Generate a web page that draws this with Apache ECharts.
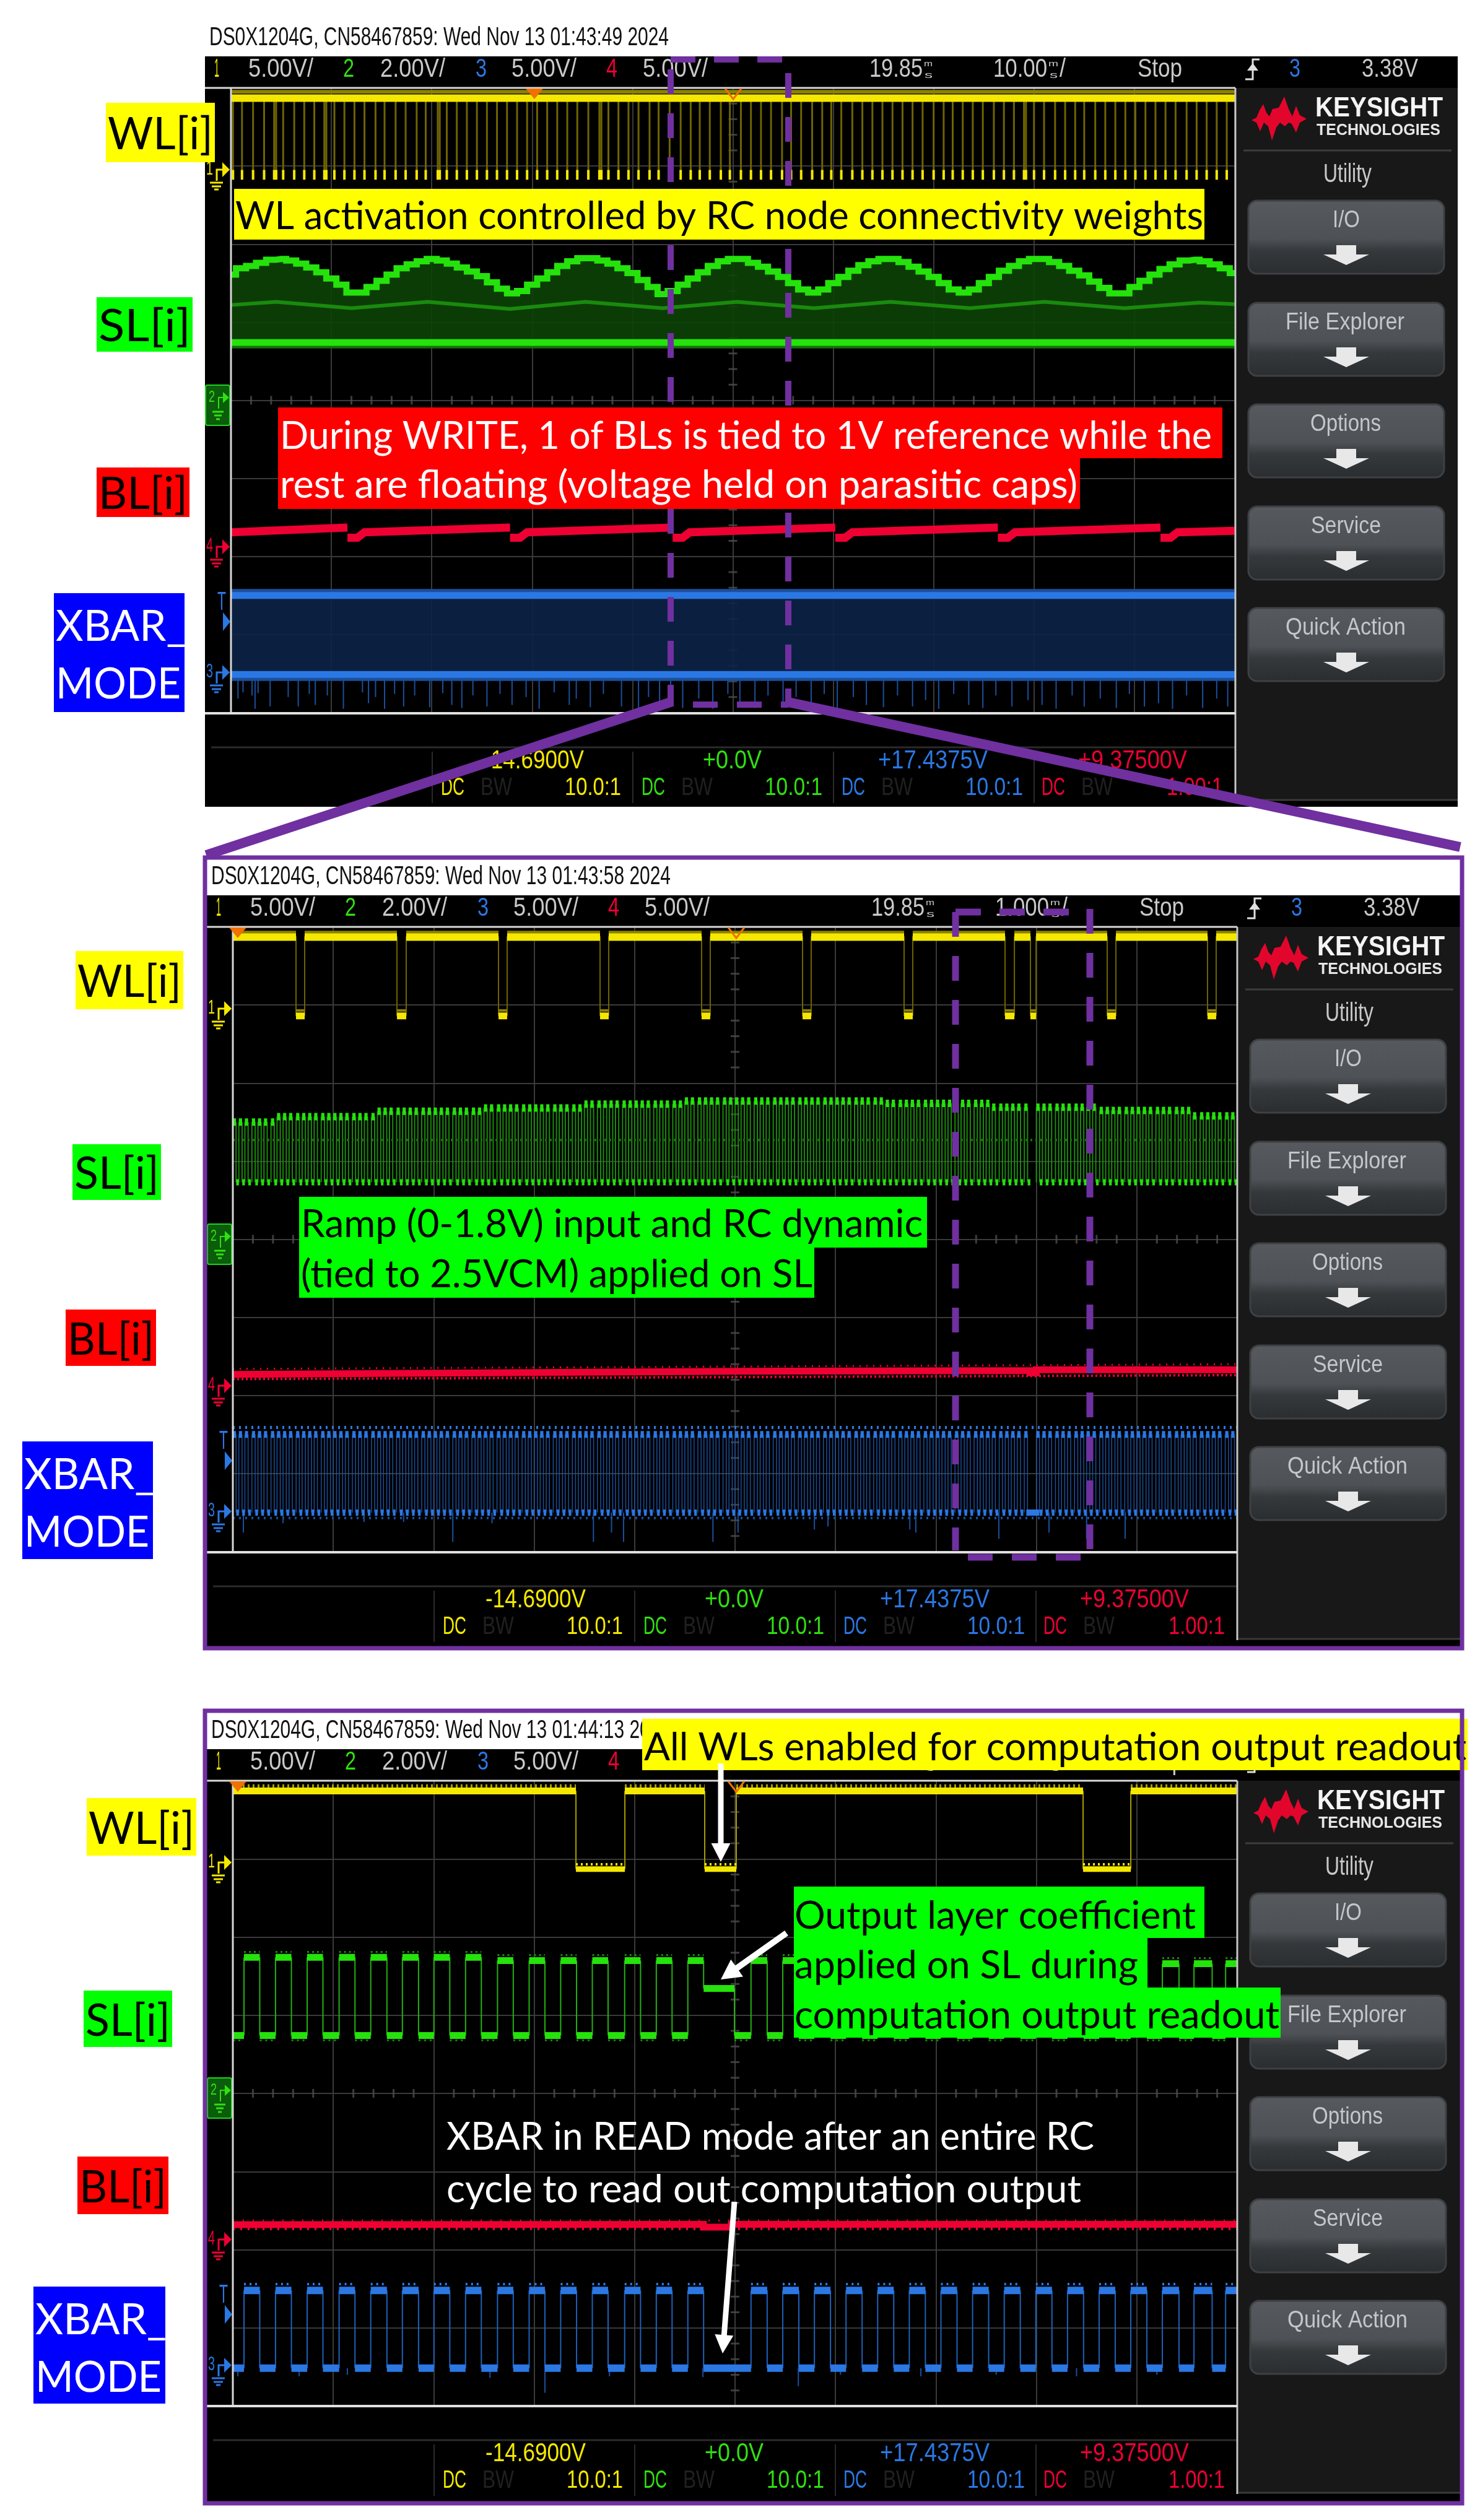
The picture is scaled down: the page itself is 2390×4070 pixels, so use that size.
<!DOCTYPE html>
<html>
<head>
<meta charset="utf-8">
<title>scope captures</title>
<style>
  html, body { margin: 0; padding: 0; background: #fff; }
  #chart { width: 2390px; height: 4070px; }
</style>
<script src="https://cdn.jsdelivr.net/npm/echarts@6/dist/echarts.min.js"></script>
</head>
<body>
<div id="chart"></div>
<script>
// all trace values are in scope divisions: x 0..10 from the left, y 0..8 from the top

// ---- capture 1 (10 ms/div)
const wlPulse1 = [0.02,0.11,0.22,0.33,0.43,0.45,0.52,0.63,0.73,0.83,0.93,0.95,1.03,1.13,1.23,1.33,1.44,1.53,1.64,1.74,1.85,1.94,2.06,2.08,2.15,2.25,2.35,2.45,2.55,2.65,2.75,2.85,2.95,3.05,3.15,3.25,3.35,3.45,3.56,3.67,3.69,3.76,3.86,3.96,4.06,4.17,4.26,4.37,4.48,4.58,4.67,4.77,4.88,4.97,5.08,5.18,5.28,5.38,5.49,5.58,5.68,5.79,5.89,5.98,6.08,6.19,6.29,6.39,6.49,6.59,6.69,6.79,6.89,7.00,7.10,7.19,7.29,7.39,7.49,7.60,7.70,7.80,7.90,7.92,8.00,8.10,8.21,8.31,8.41,8.50,8.61,8.71,8.81,8.91,9.01,9.11,9.21,9.31,9.41,9.52,9.62,9.72,9.82,9.92];
const slTop1 = [2.39,2.31,2.28,2.24,2.20,2.19,2.21,2.25,2.30,2.36,2.44,2.52,2.62,2.62,2.55,2.47,2.39,2.31,2.26,2.22,2.19,2.21,2.25,2.30,2.35,2.41,2.49,2.57,2.63,2.60,2.52,2.44,2.36,2.28,2.22,2.18,2.18,2.21,2.25,2.31,2.37,2.46,2.55,2.64,2.60,2.52,2.44,2.36,2.28,2.22,2.19,2.19,2.24,2.29,2.35,2.42,2.50,2.58,2.62,2.58,2.50,2.42,2.34,2.27,2.22,2.19,2.19,2.23,2.29,2.35,2.42,2.50,2.58,2.62,2.58,2.50,2.42,2.34,2.28,2.22,2.19,2.19,2.23,2.28,2.34,2.40,2.48,2.56,2.63,2.63,2.55,2.47,2.39,2.32,2.26,2.21,2.20,2.22,2.26,2.31,2.37];
const slMid1 = [[0,2.78],[0.45,2.74],[1.2,2.82],[1.96,2.74],[2.78,2.83],[3.53,2.74],[4.3,2.82],[5.04,2.74],[5.81,2.82],[6.57,2.74],[7.36,2.82],[8.1,2.74],[8.9,2.82],[9.65,2.75],[10,2.77]];
const slLow1 = 3.26;
const blSaw1 = [[0,5.69],[1.16,5.63],null,[1.16,5.76],[1.26,5.76],[1.33,5.69],[2.78,5.63],null,[2.78,5.76],[2.88,5.76],[2.95,5.69],[4.40,5.63],null,[4.40,5.76],[4.50,5.76],[4.57,5.69],[6.02,5.63],null,[6.02,5.76],[6.12,5.76],[6.19,5.69],[7.64,5.63],null,[7.64,5.76],[7.74,5.76],[7.81,5.69],[9.26,5.63],null,[9.26,5.76],[9.36,5.76],[9.43,5.69],[10,5.67]];
const xbarHi1 = 6.50;
const xbarLo1 = 7.51;
const xbarSpikeX1 = [0.07,0.12,0.21,0.24,0.27,0.39,0.57,0.67,0.78,0.84,0.96,1.12,1.31,1.37,1.44,1.53,1.63,1.72,1.83,1.98,2.11,2.2,2.3,2.41,2.55,2.68,2.8,2.94,3.07,3.22,3.37,3.44,3.58,3.71,3.89,4.06,4.16,4.27,4.38,4.5,4.66,4.8,4.95,5.07,5.22,5.35,5.5,5.63,5.78,5.91,6.04,6.2,6.33,6.5,6.64,6.79,6.92,7.05,7.2,7.35,7.49,7.62,7.78,7.94,8.08,8.22,8.38,8.5,8.66,8.82,8.95,9.1,9.24,9.38,9.52,9.68,9.82,9.93];
const xbarSpikeY1 = [7.82,7.74,7.78,7.95,7.75,7.92,7.8,7.92,7.76,7.9,7.78,7.95,7.74,7.88,7.8,7.95,7.76,7.92,7.78,7.93,7.75,7.9,7.94,7.78,7.92,7.76,7.9,7.8,7.95,7.74,7.9,7.82,7.93,7.76,7.92,7.95,7.8,7.92,7.76,7.94,7.82,7.95,7.76,7.9,7.94,7.78,7.93,7.8,7.92,7.76,7.95,7.8,7.9,7.93,7.78,7.92,7.84,7.95,7.76,7.9,7.94,7.78,7.92,7.84,7.9,7.95,7.78,7.92,7.82,7.94,7.76,7.92,7.88,7.95,7.78,7.94,7.82,7.92];

// ---- capture 2 (1 ms/div)
const wlGap2 = [[0.629,0.715],[1.634,1.726],[2.645,2.731],[3.656,3.742],[4.667,4.753],[5.672,5.758],[6.683,6.769],[7.688,7.781],[7.941,7.997],[8.705,8.792],[9.704,9.790]];
const pulseX2 = [
  0.00,0.06,0.12,0.19,0.25,0.31,0.38,0.44,0.50,0.56,0.63,0.69,0.75,0.81,0.88,0.94,
  1.00,1.06,1.12,1.19,1.25,1.31,1.38,1.44,1.50,1.56,1.63,1.69,1.75,1.81,1.88,1.94,
  2.00,2.06,2.12,2.19,2.25,2.31,2.38,2.44,2.50,2.56,2.63,2.69,2.75,2.81,2.88,2.94,
  3.00,3.06,3.12,3.19,3.25,3.31,3.38,3.44,3.50,3.56,3.63,3.69,3.75,3.81,3.88,3.94,
  4.00,4.06,4.12,4.19,4.25,4.31,4.38,4.44,4.50,4.56,4.63,4.69,4.75,4.81,4.88,4.94,
  5.00,5.06,5.12,5.19,5.25,5.31,5.38,5.44,5.50,5.56,5.63,5.69,5.75,5.81,5.88,5.94,
  6.00,6.06,6.12,6.19,6.25,6.31,6.38,6.44,6.50,6.56,6.63,6.69,6.75,6.81,6.88,6.94,
  7.00,7.06,7.12,7.19,7.25,7.31,7.38,7.44,7.50,7.56,7.63,7.69,7.75,7.81,7.88,
  8.00,8.06,8.12,8.19,8.25,8.31,8.38,8.44,8.50,8.56,8.63,8.69,8.75,8.81,8.88,8.94,
  9.00,9.06,9.12,9.19,9.25,9.31,9.38,9.44,9.50,9.56,9.63,9.69,9.75,9.81,9.88,9.94
];
const slStepEnd2 = [0.44,1.44,2.47,3.47,4.47,6.49,7.52,8.57,9.53,10];
const slStepTop2 = [2.50,2.43,2.36,2.32,2.27,2.23,2.26,2.31,2.35,2.42];
const slLow2 = 3.27;
const blLine2 = [[0,5.73],[2.5,5.71],[5,5.69],[7.94,5.68],[7.94,5.71],[8.0,5.71],[8.0,5.67],[10,5.67]];
const xbarHi2 = 6.50;
const xbarLo2 = 7.50;
const xbarSpikeX2 = [0.105,0.50,1.307,1.70,2.19,2.58,3.59,3.77,3.89,4.78,5.03,5.79,5.925,6.74,6.80,7.626,8.126,8.50,8.884];
const xbarSpikeY2 = [7.756,7.637,7.62,7.62,7.875,7.637,7.875,7.756,7.875,7.875,7.756,7.716,7.677,7.716,7.756,7.835,7.756,7.835,7.835];

// ---- capture 3 (readout)
const wlGap3 = [[3.416,3.903],[4.698,5.012],[8.465,8.94]];
const rise3 = [0.111,0.425,0.740,1.058,1.373,1.688,2.002,2.317,2.635,2.950,3.264,3.579,3.901,4.216,4.530,5.159,5.475,5.790,6.105,6.420,6.735,7.050,7.365,7.680,7.995,8.310,8.625,8.940,9.254,9.569,9.884];
const fall3 = [0.268,0.583,0.897,1.216,1.534,1.849,2.160,2.474,2.792,3.107,3.422,3.736,4.059,4.373,4.687,5.320,5.635,5.950,6.265,6.580,6.895,7.210,7.525,7.840,8.155,8.470,8.785,9.100,9.420,9.750,10.0];
const slTop3 = [2.26,2.26,2.26,2.26,2.26,2.26,2.26,2.26,2.30,2.30,2.30,2.30,2.30,2.30,2.30,2.30,2.30,2.32,2.32,2.32,2.32,2.32,2.32,2.32,2.32,2.34,2.34,2.34,2.34,2.34,2.34];
const slLow3 = 3.26;
const slHold3 = [4.687,4.994,2.657];
const blLine3 = [[0,5.68],[4.685,5.675],[4.685,5.71],[4.963,5.71],[4.963,5.675],[10,5.675]];
const xbarHi3 = 6.52;
const xbarLo3 = 7.515;
const xbarSpikeX3 = [0.05,0.66,1.14,2.56,3.107,3.75,4.68,5.63,6.05,6.85,7.6,8.4,9.2];
const xbarSpikeY3 = [7.62,7.62,7.6,7.64,7.83,7.62,7.63,7.745,7.6,7.62,7.6,7.62,7.6];

// center graticule ticks
const tickAlongY = [0.2,0.4,0.6,0.8,1.2,1.4,1.6,1.8,2.2,2.4,2.6,2.8,3.2,3.4,3.6,3.8,4.2,4.4,4.6,4.8,5.2,5.4,5.6,5.8,6.2,6.4,6.6,6.8,7.2,7.4,7.6,7.8];
const tickAlongX = [0.2,0.4,0.6,0.8,1.2,1.4,1.6,1.8,2.2,2.4,2.6,2.8,3.2,3.4,3.6,3.8,4.2,4.4,4.6,4.8,5.2,5.4,5.6,5.8,6.2,6.4,6.6,6.8,7.2,7.4,7.6,7.8,8.2,8.4,8.6,8.8,9.2,9.4,9.6,9.8];

const YEL = '#f4e800', YEL_DIM = '#6e6400', YEL_MID = '#a89c00';
const GRN = '#25e20c', GRN_DIM = '#1a8a0e', GRN_DARK = '#0d4206';
const BLU = '#2b78e4', BLU_DIM = '#1b4f9c', BLU_DARK = '#0c2448';
const RED = '#ee0033', RED_DIM = '#a80026';
const PURPLE = '#7030a0';

const BREAK = [null, null];

function tr(gi, data, color, width, extra) {
  return Object.assign({
    type: 'line', xAxisIndex: gi, yAxisIndex: gi, data: data,
    symbol: 'none', silent: true, animation: false,
    lineStyle: { color: color, width: width, cap: 'butt', join: 'miter' }
  }, extra || {});
}
function vsegs(xs, y1, y2) {
  let out = [];
  xs.forEach(x => out.push([x, y1], [x, y2], BREAK));
  return out;
}
function hsegs(pairs, y) {
  let out = [];
  pairs.forEach(p => out.push([p[0], y], [p[1], y], BREAK));
  return out;
}
function spikes(xs, y1, ys) {
  let out = [];
  xs.forEach((x, i) => out.push([x, y1], [x, ys[i]], BREAK));
  return out;
}
// the stretches outside a list of gaps
function outside(gaps) {
  let out = [], last = 0;
  gaps.forEach(g => { out.push([last, g[0]]); last = g[1]; });
  out.push([last, 10]);
  return out;
}
function ticksSeries(gi) {
  return [
    { type: 'scatter', xAxisIndex: gi, yAxisIndex: gi, silent: true, animation: false, symbol: 'rect', symbolSize: [14, 3],
      itemStyle: { color: '#4c4c4c' }, data: tickAlongY.map(y => [5, y]) },
    { type: 'scatter', xAxisIndex: gi, yAxisIndex: gi, silent: true, animation: false, symbol: 'rect', symbolSize: [3, 14],
      itemStyle: { color: '#4c4c4c' }, data: tickAlongX.map(x => [x, 4]) }
  ];
}

let series = [];

// ---------- capture 1 traces
series.push(...ticksSeries(0));
series.push(tr(0, vsegs(wlPulse1, 0.15, 1.06), YEL_DIM, 3));
series.push(tr(0, vsegs(wlPulse1, 1.05, 1.175), YEL, 4));
series.push(tr(0, [[0, 0.05], [10, 0.05]], '#8d8100', 6));
series.push(tr(0, [[0, 0.13], [10, 0.13]], YEL, 12));

const slTopData1 = slTop1.map((v, i) => [i / 10, v]);
series.push(tr(0, slTopData1, GRN_DARK, 0, { step: 'middle', areaStyle: { color: GRN_DARK, origin: slLow1, opacity: 0.9 }, lineStyle: { width: 0, opacity: 0 } }));
series.push(tr(0, slMid1, GRN_DIM, 6));
series.push(tr(0, slTopData1, GRN, 10, { step: 'middle' }));
series.push(tr(0, [[0, slLow1 + 0.06], [10, slLow1 + 0.06]], '#14700a', 4));
series.push(tr(0, [[0, slLow1], [10, slLow1]], GRN, 11));

series.push(tr(0, blSaw1.map(p => p || BREAK), RED, 13));

series.push(tr(0, [[0, xbarHi1], [10, xbarHi1]], BLU_DARK, 0, { areaStyle: { color: BLU_DARK, origin: xbarLo1, opacity: 0.9 }, lineStyle: { width: 0, opacity: 0 } }));
series.push(tr(0, spikes(xbarSpikeX1, xbarLo1, xbarSpikeY1), BLU_DIM, 2));
series.push(tr(0, [[0, xbarHi1 - 0.06], [10, xbarHi1 - 0.06]], BLU_DIM, 6));
series.push(tr(0, [[0, xbarLo1 + 0.06], [10, xbarLo1 + 0.06]], BLU_DIM, 6));
series.push(tr(0, [[0, xbarHi1], [10, xbarHi1]], BLU, 11));
series.push(tr(0, [[0, xbarLo1], [10, xbarLo1]], BLU, 11));

// ---------- capture 2 traces
series.push(...ticksSeries(1));
const wlBand2 = outside(wlGap2);
series.push(tr(1, vsegs(wlGap2.flat(), 0.12, 1.14), YEL_DIM, 2));
series.push(tr(1, hsegs(wlBand2, 0.07), '#8d8100', 5));
series.push(tr(1, hsegs(wlBand2, 0.13), YEL, 12));
series.push(tr(1, hsegs(wlGap2, 1.14), YEL, 11));
series.push(tr(1, hsegs(wlGap2, 1.07), '#8d8100', 4));

function slLevel2(x) {
  let i = slStepEnd2.findIndex(e => x < e);
  return slStepTop2[i < 0 ? slStepTop2.length - 1 : i];
}
const PW2 = 0.032;
let edge2 = [], top2 = [], low2 = [], edgeB2 = [], topB2 = [], lowB2 = [];
pulseX2.forEach(x => {
  let y = slLevel2(x);
  edge2.push([x, y], [x, slLow2], BREAK, [x + PW2, y], [x + PW2, slLow2], BREAK);
  top2.push([x, y], [x + PW2, y], BREAK);
  low2.push([x + PW2 + 0.002, slLow2], [x + 0.06, slLow2], BREAK);
  edgeB2.push([x, xbarHi2], [x, xbarLo2], BREAK, [x + PW2, xbarHi2], [x + PW2, xbarLo2], BREAK);
  topB2.push([x, xbarHi2], [x + PW2, xbarHi2], BREAK);
  lowB2.push([x + PW2 + 0.002, xbarLo2], [x + 0.06, xbarLo2], BREAK);
});
series.push(tr(1, edge2, '#1c8a0e', 2));
series.push(tr(1, [[0, 2.73], [10, 2.73]], '#1d6f10', 4, { lineStyle: { color: '#1d6f10', width: 4, type: [3, 5], cap: 'butt' } }));
series.push(tr(1, top2, GRN, 12));
series.push(tr(1, low2, GRN, 10));

series.push(tr(1, [[0, 5.79], [10, 5.74]], RED_DIM, 4, { lineStyle: { color: RED, width: 4, type: [3, 4], cap: 'butt' } }));
series.push(tr(1, [[0, 5.66], [10, 5.60]], RED_DIM, 3, { lineStyle: { color: RED, width: 3, type: [2, 9], cap: 'butt' } }));
series.push(tr(1, blLine2, RED, 11));

series.push(tr(1, edgeB2, '#1c4f9a', 1.5));
series.push(tr(1, spikes(xbarSpikeX2, xbarLo2, xbarSpikeY2), BLU_DIM, 2));
series.push(tr(1, [[0, xbarHi2 - 0.09], [10, xbarHi2 - 0.09]], BLU_DIM, 5, { lineStyle: { color: BLU, width: 5, type: [3, 7], cap: 'butt' } }));
series.push(tr(1, [[0, xbarLo2 + 0.07], [10, xbarLo2 + 0.07]], BLU_DIM, 4, { lineStyle: { color: BLU_DIM, width: 4, type: [3, 7], cap: 'butt' } }));
series.push(tr(1, topB2, BLU, 11));
series.push(tr(1, lowB2, BLU, 10));
series.push(tr(1, [[7.90, xbarLo2], [8.03, xbarLo2]], BLU, 10));

// ---------- capture 3 traces
series.push(...ticksSeries(2));
const wlBand3 = outside(wlGap3);
series.push(tr(2, vsegs(wlGap3.flat(), 0.13, 1.13), YEL_MID, 2));
series.push(tr(2, hsegs(wlBand3, 0.07), YEL, 6, { lineStyle: { color: YEL_MID, width: 6, type: [3, 5], cap: 'butt' } }));
series.push(tr(2, hsegs(wlBand3, 0.13), YEL, 11));
series.push(tr(2, hsegs(wlGap3, 1.07), YEL, 4, { lineStyle: { color: YEL, width: 4, type: [3, 5], cap: 'butt' } }));
series.push(tr(2, hsegs(wlGap3, 1.13), YEL, 9));

// low stretches between a fall and the next rise
function lows(falls, rises) {
  let out = [[0, rises[0]]];
  falls.forEach((f, i) => { if (i + 1 < rises.length) out.push([f, rises[i + 1]]); });
  return out;
}
const rf3 = rise3.map((r, i) => [r, fall3[i]]);
// SL sits at the coefficient level during the readout, so its low stretch starts later
const slLows3 = lows(fall3.map(f => f === slHold3[0] ? slHold3[1] : f), rise3);

let edgeG3 = [];
rf3.forEach((p, i) => {
  edgeG3.push([p[0], slLow3], [p[0], slTop3[i]], BREAK);
  if (p[1] !== slHold3[0]) edgeG3.push([p[1], slTop3[i]], [p[1], slLow3], BREAK);
});
edgeG3.push([slHold3[0], slTop3[14]], [slHold3[0], slHold3[2]], BREAK, [slHold3[1], slHold3[2]], [slHold3[1], slLow3], BREAK);
series.push(tr(2, edgeG3, '#24b012', 2));
let topsG3 = [], fringeG3 = [];
rf3.forEach((p, i) => {
  topsG3.push([p[0], slTop3[i]], [p[1], slTop3[i]], BREAK);
  fringeG3.push([p[0], slTop3[i] - 0.07], [p[1], slTop3[i] - 0.07], BREAK);
});
series.push(tr(2, fringeG3, GRN, 3, { lineStyle: { color: GRN_DIM, width: 3, type: [3, 5], cap: 'butt' } }));
series.push(tr(2, topsG3, GRN, 11));
series.push(tr(2, hsegs(slLows3, slLow3), GRN, 11));
series.push(tr(2, hsegs(slLows3, slLow3 + 0.06), GRN, 3, { lineStyle: { color: GRN_DIM, width: 3, type: [3, 6], cap: 'butt' } }));
series.push(tr(2, hsegs([[slHold3[0], slHold3[1]]], slHold3[2]), GRN, 11));

series.push(tr(2, [[0, 5.735], [10, 5.735]], RED, 4, { lineStyle: { color: RED, width: 4, type: [3, 9], cap: 'butt' } }));
series.push(tr(2, [[0, 5.625], [10, 5.625]], RED, 3, { lineStyle: { color: RED, width: 3, type: [2, 14], cap: 'butt' } }));
series.push(tr(2, blLine3, RED, 11));

let edgeB3 = [], topsB3 = [], fringeB3 = [];
rf3.forEach(p => {
  edgeB3.push([p[0], xbarLo3], [p[0], xbarHi3], BREAK, [p[1], xbarHi3], [p[1], xbarLo3], BREAK);
  topsB3.push([p[0], xbarHi3], [p[1], xbarHi3], BREAK);
  fringeB3.push([p[0], xbarHi3 - 0.08], [p[1], xbarHi3 - 0.08], BREAK);
});
series.push(tr(2, edgeB3, '#1f60b8', 2));
series.push(tr(2, spikes(xbarSpikeX3, xbarLo3, xbarSpikeY3), BLU_DIM, 2));
series.push(tr(2, fringeB3, BLU, 4, { lineStyle: { color: BLU, width: 4, type: [3, 6], cap: 'butt' } }));
series.push(tr(2, topsB3, BLU, 12));
series.push(tr(2, hsegs(lows(fall3, rise3), xbarLo3), BLU, 12));

// ---------- everything around the traces
const SCOPE_FONT = '"Liberation Sans", sans-serif';
const NOTE_FONT = 'Lato, "Noto Sans", sans-serif';
const mc = document.createElement('canvas').getContext('2d');
let gfx = [];

function fit(str, x1, x2, cy, cap, color, z, family, weight, ratio) {
  family = family || SCOPE_FONT;
  weight = weight || 'normal';
  let size = cap / (ratio || 0.72);
  mc.font = weight + ' ' + size + 'px ' + family;
  let w = mc.measureText(str).width;
  gfx.push({
    type: 'text', x: x1, y: cy, scaleX: (x2 - x1) / w, z: z === undefined ? 5 : z, silent: true,
    style: { text: str, fill: color, fontSize: size, fontFamily: family, fontWeight: weight, align: 'left', verticalAlign: 'middle' }
  });
}
function note(str, x1, x2, cy, color) {
  fit(str, x1, x2, cy + 3, 45, color, 21, NOTE_FONT);
}
function box(x, y, w, h, fill, z, r, stroke, lw) {
  gfx.push({
    type: 'rect', z: z, silent: true, shape: { x: x, y: y, width: w, height: h, r: r || 0 },
    style: { fill: fill, stroke: stroke || null, lineWidth: lw || 0 }
  });
}
function ln(x1, y1, x2, y2, color, lw, z, dash) {
  gfx.push({
    type: 'line', z: z === undefined ? 5 : z, silent: true, shape: { x1: x1, y1: y1, x2: x2, y2: y2 },
    style: { stroke: color, lineWidth: lw, lineDash: dash || null, lineCap: 'butt' }
  });
}
function poly(points, fill, z) {
  gfx.push({ type: 'polygon', z: z === undefined ? 5 : z, silent: true, shape: { points: points }, style: { fill: fill } });
}
function pline(points, color, lw, z) {
  gfx.push({ type: 'polyline', z: z === undefined ? 5 : z, silent: true, shape: { points: points }, style: { stroke: color, lineWidth: lw, fill: null } });
}

function channelMark(px, y, color, num) {
  fit(num, px - 40, px - 29, y, 22, color);
  pline([[px - 23, y + 18], [px - 23, y], [px - 13, y]], color, 3);
  poly([[px - 14, y - 12], [px - 2, y], [px - 14, y + 12]], color);
  ln(px - 34, y + 21, px - 13, y + 21, color, 3);
  ln(px - 31, y + 27, px - 16, y + 27, color, 3);
  ln(px - 27, y + 32, px - 20, y + 32, color, 3);
}

function keysight(px, py) {
  const X = px - 373, Y = py - 142;
  const pts = [[0,38],[8,34],[13,22],[19,12],[24,26],[29,32],[34,20],[44,18],[53,0],[60,20],[66,32],[72,15],[78,30],[89,36],[78,42],[72,58],[65,44],[60,42],[54,48],[46,42],[40,50],[33,71],[27,48],[20,42],[14,56],[8,42]];
  poly(pts.map(p => [p[0] + 2021 + X, p[1] + 156 + Y]), '#e2062c');
  fit('KEYSIGHT', 2124 + X, 2330 + X, 176 + Y, 32, '#f4f4f4', 5, SCOPE_FONT, 'bold');
  fit('TECHNOLOGIES', 2126 + X, 2326 + X, 211 + Y, 18, '#e6e6e6', 5, SCOPE_FONT, 'bold');
  ln(2008 + X, 243 + Y, 2344 + X, 243 + Y, '#3c3c3c', 3);
  fit('Utility', 2137 + X, 2215 + X, 283 + Y, 30, '#c8c8c8');
  const labels = [['I/O', 2152, 2196], ['File Explorer', 2076, 2268], ['Options', 2116, 2230], ['Service', 2117, 2230], ['Quick Action', 2076, 2270]];
  const tops = [324, 489, 653, 818, 982];
  labels.forEach((l, i) => {
    const t = tops[i] + Y;
    const grad = new echarts.graphic.LinearGradient(0, 0, 0, 1, [
      { offset: 0, color: '#565a5e' }, { offset: 0.52, color: '#4e5256' }, { offset: 0.68, color: '#35393c' }, { offset: 1, color: '#2a2d30' }
    ]);
    box(2016 + X, t, 316, 118, grad, 3, 14, '#3e4043', 3);
    fit(l[0], l[1] + X, l[2] + X, t + 32, 28, '#c4c6c8');
    const c = 2174 + X, a = t + 72;
    poly([[c - 16, a], [c + 16, a], [c + 16, a + 15], [c + 37, a + 15], [c, a + 32], [c - 37, a + 15], [c - 16, a + 15]], '#e8e8e8');
  });
}

// shared furniture of one scope capture, px/py = top left of its graticule
function scope(px, py, rightRel, bottomRel, stamp, timeDiv) {
  box(px - 42, py - 51, rightRel + 42, bottomRel + 51, '#000', -10);
  fit('DS0X1204G, CN58467859: Wed Nov 13 ' + stamp + ' 2024', px - 35, px + 707, py - 80, 30, '#111');

  const hy = py - 29, hc = 30, GR = '#c9c9c9';
  fit('1', px - 27, px - 19, hy, hc, YEL);
  fit('5.00V/', px + 28, px + 133, hy, hc, GR);
  fit('2', px + 181, px + 199, hy, hc, '#30e010');
  fit('2.00V/', px + 241, px + 346, hy, hc, GR);
  fit('3', px + 395, px + 413, hy, hc, BLU);
  fit('5.00V/', px + 453, px + 558, hy, hc, GR);
  fit('4', px + 606, px + 624, hy, hc, RED);
  fit('5.00V/', px + 665, px + 770, hy, hc, GR);
  fit('19.85', px + 1031, px + 1117, hy, hc, GR);
  fit('m', px + 1119, px + 1133, py - 38, 9, GR);
  fit('s', px + 1120, px + 1133, py - 20, 10, GR);
  fit(timeDiv, px + 1231, px + 1318, hy, hc, GR);
  fit('m', px + 1320, px + 1336, py - 38, 9, GR);
  fit('/', px + 1338, px + 1348, hy, hc, GR);
  fit('s', px + 1322, px + 1335, py - 20, 10, GR);
  fit('Stop', px + 1464, px + 1536, hy, hc, GR);
  pline([[px + 1638, py - 14], [px + 1650, py - 14], [px + 1650, py - 46], [px + 1661, py - 46]], '#e0e0e0', 3);
  poly([[px + 1641, py - 28], [px + 1650, py - 40], [px + 1659, py - 28]], '#e0e0e0');
  fit('3', px + 1709, px + 1727, hy, hc, BLU);
  fit('3.38V', px + 1826, px + 1917, hy, hc, GR);

  // plot frame
  ln(px - 42, py, px + 1622, py, '#d8d8d8', 3, 6);
  ln(px, py, px, py + 1010, '#d8d8d8', 3, 6);
  ln(px + 1622, py, px + 1622, py + 1152, '#c8c8c8', 3, 6);
  ln(px - 42, py + 1010, px + 1622, py + 1010, '#e0e0e0', 4, 6);

  // right hand softkey column
  box(px + 1624, py, rightRel - 1624, 1150, '#181818', -5);
  ln(px + 1624, py + 1150, px + rightRel, py + 1150, '#3a3a3a', 3, -4);
  keysight(px, py);

  // footer
  ln(px - 32, py + 1065, px + 1622, py + 1065, '#2b2b2b', 3, -4);
  [325, 649, 973, 1297].forEach(d => ln(px + d, py + 1072, px + d, py + 1155, '#2b2b2b', 2, -4));
  const r1 = py + 1088, r2 = py + 1131, cf = 30;
  fit('-14.6900V', px + 408, px + 570, r1, cf, YEL);
  fit('+0.0V', px + 762, px + 857, r1, cf, '#30e010');
  fit('+17.4375V', px + 1045, px + 1222, r1, cf, BLU);
  fit('+9.37500V', px + 1368, px + 1544, r1, cf, RED);
  const foot = [[339, YEL, '10.0:1', 539, 630], [663, '#30e010', '10.0:1', 862, 955], [986, BLU, '10.0:1', 1186, 1279], [1309, RED, '1.00:1', 1511, 1602]];
  foot.forEach(f => {
    fit('DC', px + f[0], px + f[0] + 38, r2, 29, f[1]);
    fit('BW', px + f[0] + 64, px + f[0] + 115, r2, 29, '#202020');
    fit(f[2], px + f[3], px + f[4], r2, 29, f[1]);
  });

  // channel markers
  channelMark(px, py + 132, YEL, '1');
  channelMark(px, py + 741, RED, '4');
  channelMark(px, py + 944, BLU, '3');
  box(px - 41, py + 480, 39, 65, '#0b5c0b', 4, 3, '#20d020', 2);
  fit('2', px - 36, px - 26, py + 500, 18, '#30e010', 6);
  pline([[px - 20, py + 518], [px - 20, py + 500], [px - 12, py + 500]], '#30e010', 2, 6);
  poly([[px - 13, py + 491], [px - 3, py + 500], [px - 13, py + 509]], '#30e010', 6);
  ln(px - 30, py + 523, px - 12, py + 523, '#30e010', 3, 6);
  ln(px - 27, py + 529, px - 15, py + 529, '#30e010', 3, 6);
  ln(px - 24, py + 535, px - 18, py + 535, '#30e010', 3, 6);
  fit('T', px - 22, px - 8, py + 832, 30, BLU);
  poly([[px - 13, py + 847], [px - 1, py + 862], [px - 13, py + 877]], BLU);
}

function triggerMarks(px, py, filledX, hollowX) {
  poly([[px + filledX - 14, py + 1], [px + filledX + 14, py + 1], [px + filledX, py + 18]], '#f07000', 7);
  pline([[px + hollowX - 13, py + 1], [px + hollowX, py + 18], [px + hollowX + 13, py + 1]], '#f07000', 3, 7);
}

function whiteArrow(x1, y1, x2, y2, w, hw, hl) {
  const dx = x2 - x1, dy = y2 - y1, L = Math.hypot(dx, dy), ux = dx / L, uy = dy / L, nx = -uy, ny = ux;
  const bx = x2 - ux * hl, by = y2 - uy * hl;
  poly([[x1 + nx * w / 2, y1 + ny * w / 2], [bx + nx * w / 2, by + ny * w / 2], [bx + nx * hw / 2, by + ny * hw / 2], [x2, y2],
        [bx - nx * hw / 2, by - ny * hw / 2], [bx - nx * w / 2, by - ny * w / 2], [x1 - nx * w / 2, y1 - ny * w / 2]], '#fff', 30);
}

scope(373, 142, 1981, 1161, '01:43:49', '10.00');
scope(376, 1497, 1982, 1162, '01:43:58', '1.000');
scope(376, 2876, 1985, 1164, '01:44:13', '1.000');
triggerMarks(373, 142, 490, 811);
triggerMarks(376, 1497, 8, 813);
triggerMarks(376, 2876, 8, 813);

// frames and zoom callouts
gfx.push({ type: 'rect', z: 40, silent: true, shape: { x: 331, y: 1385, width: 2030, height: 1277 }, style: { fill: null, stroke: PURPLE, lineWidth: 7 } });
gfx.push({ type: 'rect', z: 40, silent: true, shape: { x: 331, y: 2763, width: 2030, height: 1280 }, style: { fill: null, stroke: PURPLE, lineWidth: 7 } });
const DASH = [40, 31];
ln(1083, 112, 1083, 1141, PURPLE, 10, 15, DASH);
ln(1273, 118, 1273, 1138, PURPLE, 10, 15, DASH);
ln(1083, 96, 1266, 96, PURPLE, 10, 15, [40, 30]);
ln(1119, 1138, 1273, 1138, PURPLE, 10, 15, DASH);
ln(1083, 1134, 333, 1381, PURPLE, 16, 15);
ln(1273, 1134, 2358, 1368, PURPLE, 16, 15);
ln(1543, 1473, 1543, 2504, PURPLE, 11, 15, DASH);
ln(1760, 1468, 1760, 2502, PURPLE, 11, 15, DASH);
ln(1543, 1473, 1726, 1473, PURPLE, 11, 15, [41, 30]);
ln(1563, 2515, 1745, 2515, PURPLE, 11, 15, DASH);

// channel name tags
function chTag(str, x1, x2, y1, y2, fill, color) {
  box(x1, y1, x2 - x1, y2 - y1, fill, 20);
  fit(str, x1 + 3, x2 - 3, (y1 + y2) / 2 + 4, 52, color, 21, NOTE_FONT);
}
function xbarTag(x1, x2, y1, y2, c1, c2) {
  box(x1, y1, x2 - x1, y2 - y1, '#0000ff', 20);
  fit('XBAR_', x1 + 3, x2 + 2, c1 + 3, 50, '#fff', 21, NOTE_FONT);
  fit('MODE', x1 + 3, x2 - 6, c2 + 3, 50, '#fff', 21, NOTE_FONT);
}
chTag('WL[i]', 171, 347, 166, 262, '#ffff00', '#000');
chTag('SL[i]', 156, 311, 480, 568, '#00ff00', '#000');
chTag('BL[i]', 156, 306, 755, 835, '#ff0000', '#000');
xbarTag(87, 298, 958, 1150, 1010, 1103);
chTag('WL[i]', 122, 296, 1536, 1630, '#ffff00', '#000');
chTag('SL[i]', 117, 260, 1848, 1938, '#00ff00', '#000');
chTag('BL[i]', 106, 252, 2115, 2206, '#ff0000', '#000');
xbarTag(36, 247, 2328, 2518, 2380, 2473);
chTag('WL[i]', 140, 317, 2904, 2997, '#ffff00', '#000');
chTag('SL[i]', 135, 278, 3215, 3306, '#00ff00', '#000');
chTag('BL[i]', 125, 272, 3483, 3576, '#ff0000', '#000');
xbarTag(54, 267, 3693, 3882, 3745, 3838);

// notes on the captures
box(378, 305, 1567, 82, '#ffff00', 20);
note('WL activation controlled by RC node connectivity weights', 380, 1943, 347, '#000');
box(449, 658, 1525, 82, '#ff0000', 20);
box(449, 740, 1295, 82, '#ff0000', 20);
note('During WRITE, 1 of BLs is tied to 1V reference while the', 452, 1957, 702, '#fff');
note('rest are floating (voltage held on parasitic caps)', 452, 1740, 781, '#fff');

box(483, 1933, 1014, 82, '#00ff00', 20);
box(483, 2015, 832, 81, '#00ff00', 20);
note('Ramp (0-1.8V) input and RC dynamic', 486, 1490, 1975, '#000');
note('(tied to 2.5VCM) applied on SL', 486, 1312, 2056, '#000');

box(1037, 2776, 1333, 83, '#ffff00', 20);
note('All WLs enabled for computation output readout', 1040, 2368, 2820, '#000');
box(1282, 3047, 663, 83, '#00ff00', 20);
box(1282, 3130, 571, 80, '#00ff00', 20);
box(1282, 3210, 786, 81, '#00ff00', 20);
note('Output layer coefficient', 1283, 1931, 3092, '#000');
note('applied on SL during', 1283, 1838, 3172, '#000');
note('computation output readout', 1283, 2066, 3253, '#000');
note('XBAR in READ mode after an entire RC', 721, 1767, 3449, '#fff');
note('cycle to read out computation output', 721, 1746, 3534, '#fff');
whiteArrow(1164, 2848, 1164, 3007, 9, 31, 30);
whiteArrow(1270, 3122, 1164, 3197, 10, 34, 32);
whiteArrow(1186, 3556, 1167, 3801, 9, 30, 30);

// ---------- option
const grids = [
  { left: 373, top: 142, width: 1621, height: 1009 },
  { left: 376, top: 1497, width: 1622, height: 1009 },
  { left: 376, top: 2876, width: 1622, height: 1010 }
];
const split = { show: true, lineStyle: { color: '#3a3a3a', width: 2 } };
const chart = echarts.init(document.getElementById('chart'));
chart.setOption({
  backgroundColor: '#fff',
  animation: false,
  grid: grids.map(g => Object.assign({ show: false, containLabel: false }, g)),
  xAxis: grids.map((g, i) => ({
    type: 'value', gridIndex: i, min: 0, max: 10, interval: 1,
    axisLabel: { show: false }, axisTick: { show: false }, axisLine: { show: false }, splitLine: split
  })),
  yAxis: grids.map((g, i) => ({
    type: 'value', gridIndex: i, min: 0, max: 8, interval: 1, inverse: true,
    axisLabel: { show: false }, axisTick: { show: false }, axisLine: { show: false }, splitLine: split
  })),
  series: series,
  graphic: { elements: gfx }
});
</script>
</body>
</html>
